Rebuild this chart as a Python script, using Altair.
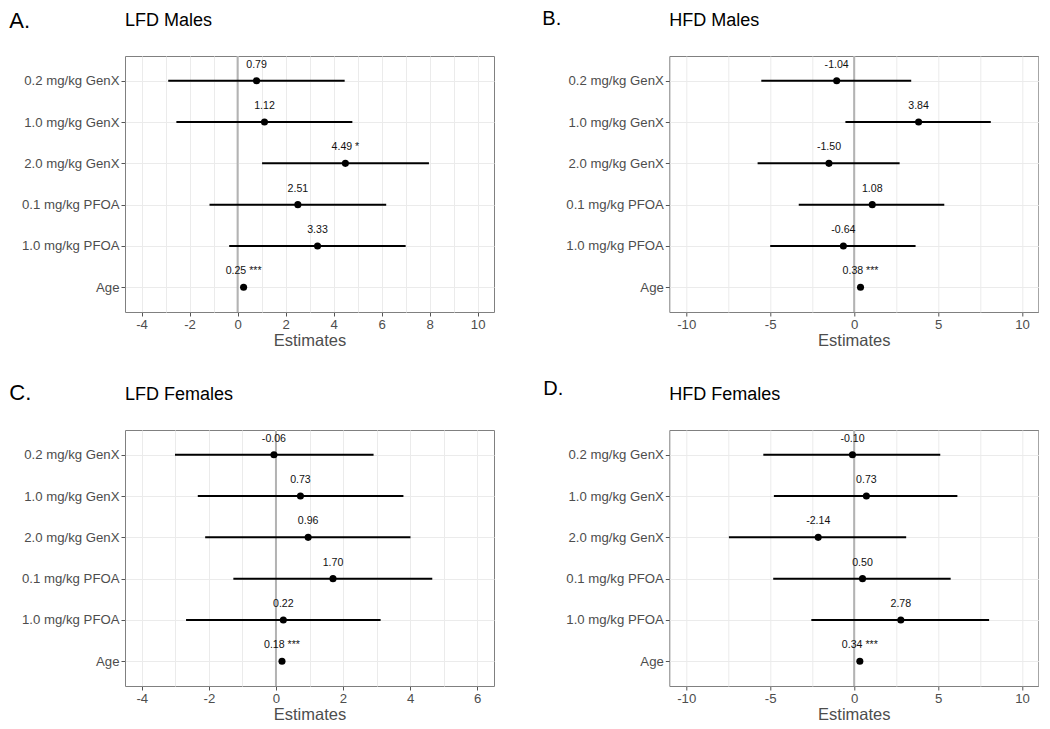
import altair as alt
import pandas as pd

# ---------------- data ----------------
cats = ["0.2 mg/kg GenX", "1.0 mg/kg GenX", "2.0 mg/kg GenX",
        "0.1 mg/kg PFOA", "1.0 mg/kg PFOA", "Age"]

a_est = [0.79, 1.12, 4.49, 2.51, 3.33, 0.25]
a_lo = [-2.89, -2.55, 1.02, -1.17, -0.35, 0.17]
a_hi = [4.46, 4.78, 7.97, 6.19, 7.00, 0.33]
a_stars = ["", "", "*", "", "", "***"]

b_est = [-1.04, 3.84, -1.50, 1.08, -0.64, 0.38]
b_lo = [-5.53, -0.52, -5.75, -3.30, -5.00, 0.28]
b_hi = [3.40, 8.14, 2.71, 5.37, 3.66, 0.48]
b_stars = ["", "", "", "", "", "***"]

c_est = [-0.06, 0.73, 0.96, 1.70, 0.22, 0.18]
c_lo = [-3.01, -2.33, -2.11, -1.27, -2.68, 0.12]
c_hi = [2.91, 3.80, 4.01, 4.66, 3.12, 0.24]
c_stars = ["", "", "", "", "", "***"]

d_est = [-0.10, 0.73, -2.14, 0.50, 2.78, 0.34]
d_lo = [-5.41, -4.78, -7.46, -4.82, -2.55, 0.24]
d_hi = [5.13, 6.15, 3.10, 5.75, 8.04, 0.44]
d_stars = ["", "", "", "", "", "***"]

lfd_domain = [-4.69, 10.68]
lfd_major = [-4, -2, 0, 2, 4, 6, 8, 10]
lfd_minor = [-3, -1, 1, 3, 5, 7, 9]

hfd_domain = [-11.01, 10.97]
hfd_major = [-10, -5, 0, 5, 10]
hfd_minor = [-7.5, -2.5, 2.5, 7.5]

lfdf_domain = [-4.50, 6.50]
lfdf_major = [-4, -2, 0, 2, 4, 6]
lfdf_minor = [-3, -1, 1, 3, 5]

FONT = "Liberation Sans"
GREY_TXT = "#4D4D4D"
GRID = "#EBEBEB"
W, H = 369, 256


def panel(letter, letter_x, letter_y, letter_size, title, est, lo, hi, stars,
          domain, major, minor):
    df = pd.DataFrame({
        "term": cats,
        "est": est,
        "lo": lo,
        "hi": hi,
        "label": [f"{e:.2f}" + (f" {s}" if s else "") for e, s in zip(est, stars)],
    })
    xscale = alt.Scale(domain=domain, nice=False, zero=False)
    yscale = alt.Scale(type="point", domain=cats, padding=0.6)

    grid_axis = alt.Axis(orient="top", grid=True, gridColor=GRID, gridWidth=1,
                         values=sorted(major + minor), labels=False, ticks=False,
                         domain=False, title=None)
    main_axis = alt.Axis(orient="bottom", grid=False, values=major, domain=False,
                         tickSize=4, tickColor="#555555", tickWidth=1,
                         labelFontSize=13.2, labelColor=GREY_TXT, labelFont=FONT,
                         labelPadding=2, labelFlush=False, labelOverlap=False,
                         format="d",
                         labelExpr="replace(datum.label, '\u2212', '-')",
                         title="Estimates", titleFontSize=16.5, titleColor=GREY_TXT,
                         titleFont=FONT, titleFontWeight="normal", titlePadding=2)
    y_axis = alt.Axis(grid=True, gridColor=GRID, gridWidth=1, domain=False,
                      tickSize=4, tickColor="#555555", labelFontSize=13.2,
                      labelColor=GREY_TXT, labelFont=FONT, labelPadding=2,
                      title=None, labelLimit=200)
    yenc = alt.Y("term:N", scale=yscale, axis=y_axis, sort=cats)

    zero = alt.Chart(pd.DataFrame({"zero": [0]})).mark_rule(
        color="#B3B3B3", strokeWidth=2
    ).encode(x=alt.X("zero:Q", scale=xscale, axis=grid_axis))

    bars = alt.Chart(df).mark_rule(color="black", strokeWidth=2).encode(
        x=alt.X("lo:Q", scale=xscale, axis=main_axis),
        x2="hi:Q",
        y=yenc,
    )
    pts = alt.Chart(df).mark_point(filled=True, shape="circle", size=50,
                                   color="black", opacity=1).encode(
        x=alt.X("est:Q", scale=xscale, axis=None),
        y=yenc,
    )
    labels = alt.Chart(df).mark_text(dy=-16, fontSize=10.6, font=FONT,
                                     color="#111111", align="center",
                                     baseline="middle").encode(
        x=alt.X("est:Q", scale=xscale, axis=None),
        y=yenc,
        text="label:N",
    )
    let = alt.Chart(pd.DataFrame({"t": [letter]})).mark_text(
        align="left", baseline="alphabetic", fontSize=letter_size, font=FONT,
        color="black"
    ).encode(text="t:N", x=alt.value(letter_x), y=alt.value(letter_y))
    ttl = alt.Chart(pd.DataFrame({"t": [title]})).mark_text(
        align="left", baseline="alphabetic", fontSize=18, font=FONT, color="black"
    ).encode(text="t:N", x=alt.value(0), y=alt.value(-29.7))

    return alt.layer(zero, bars, pts, labels, let, ttl).resolve_axis(
        x="independent"
    ).properties(width=W, height=H)


pA = panel("A.", -115.7, -28.5, 22, "LFD Males", a_est, a_lo, a_hi, a_stars,
           lfd_domain, lfd_major, lfd_minor)
pB = panel("B.", -127, -31, 20, "HFD Males", b_est, b_lo, b_hi, b_stars,
           hfd_domain, hfd_major, hfd_minor)
pC = panel("C.", -115.7, -30.3, 22, "LFD Females", c_est, c_lo, c_hi, c_stars,
           lfdf_domain, lfdf_major, lfdf_minor)
pD = panel("D.", -126, -35.3, 20, "HFD Females", d_est, d_lo, d_hi, d_stars,
           hfd_domain, hfd_major, hfd_minor)

chart = alt.concat(
    pA, pB, pC, pD, columns=2, bounds="flush",
    spacing={"row": 118, "column": 175.3}, padding=0,
).configure(font=FONT, background="white").configure_view(
    stroke="#808080", strokeWidth=1
)

chart.save("out.html", embed_options={"renderer": "svg", "actions": False})
